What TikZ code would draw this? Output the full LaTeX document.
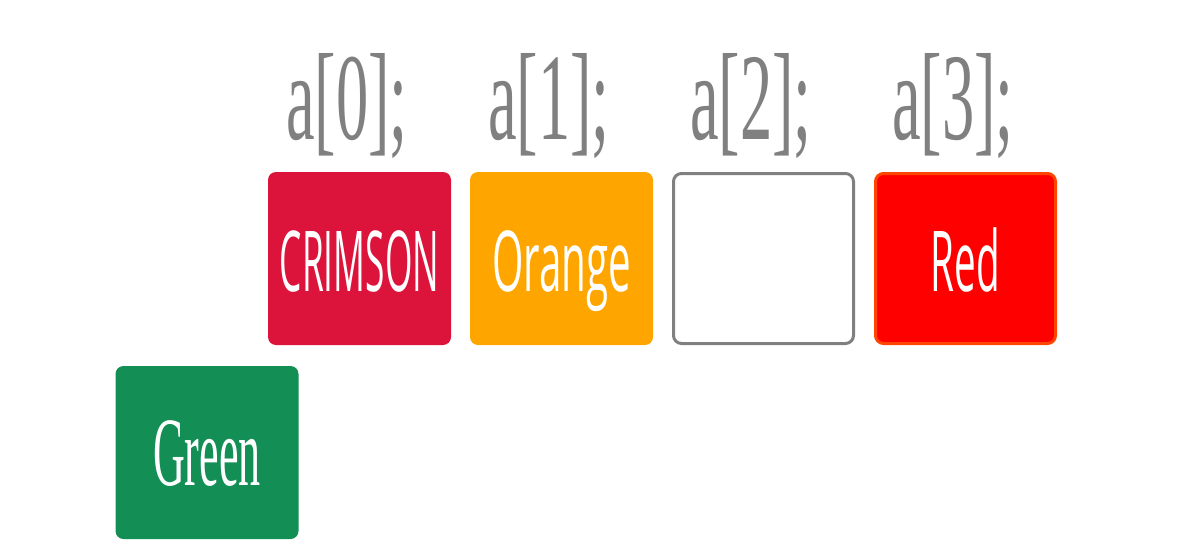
\documentclass[tikz,border=0pt]{standalone}
\usepackage{fontspec}
\usepackage{graphicx}
\newfontfamily\serifont{Liberation Serif}
\newfontfamily\boxfont{Open Sans}
\definecolor{crimson}{HTML}{DC143C}
\definecolor{orangebox}{HTML}{FFA500}
\definecolor{redbox}{HTML}{FF0000}
\definecolor{orangered}{HTML}{FF4500}
\definecolor{greenbox}{HTML}{138F55}
\definecolor{grayline}{HTML}{808080}
\newcommand{\cond}[2][0.44]{\scalebox{#1}[1]{#2}}
\begin{document}
\begin{tikzpicture}[x=1pt, y=-1pt, line join=round,
    cell/.style={rectangle, rounded corners=8pt, minimum width=183pt, minimum height=173pt,
      inner sep=0pt, text height=66pt, text depth=0pt, text=white,
      font=\boxfont\fontsize{84}{84}\selectfont},
    framed/.style={draw=#1, line width=3pt, minimum width=180pt, minimum height=170pt},
    lab/.style={anchor=base, inner sep=0pt, text=grayline}]
	\def\s{202} % step between cells
	\useasboundingbox (0,0) rectangle (1192,554);
	% array cells
	\node[cell, fill=crimson] (crimson) at (359.5,258.5) {\cond[0.42]{CRIMSON}};
	\node[cell, fill=orangebox] (orange) at ({359.5+\s},258.5) {\cond[0.48]{Orange}};
	\node[cell, framed=grayline, fill=white] (empty) at ({359.5+2*\s},258.5) {};
	\node[cell, framed=orangered, fill=redbox] (red) at ({359.5+3*\s},258.5) {\cond[0.46]{Red}};
	% the extra value
	\node[cell, fill=greenbox] (green) at (207,452.5) {\serifont\fontsize{98}{98}\selectfont\cond[0.45]{Green}};
	% indices
	\foreach \i in {0,...,3}
		\node[lab] (a\i) at ({347+\i*\s},139) {\serifont\fontsize{124}{124}\selectfont\cond[0.52]{a[\i];}};
\end{tikzpicture}
\end{document}
